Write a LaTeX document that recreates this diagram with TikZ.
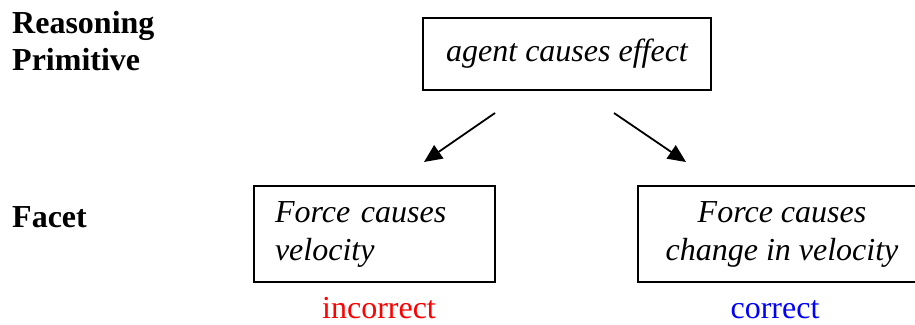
\documentclass[tikz,border=0pt]{standalone}
\usepackage{fontspec}
\setmainfont{Liberation Serif}
\usetikzlibrary{arrows.meta}
\begin{document}
\begin{tikzpicture}[x=1pt,y=-1pt,
  every node/.style={font=\fontsize{32}{37}\selectfont},
  label/.style={font=\fontsize{32}{37}\selectfont\bfseries, anchor=base west, inner sep=0pt},
  box/.style={draw, line width=1.6pt, inner sep=0pt, outer sep=0pt,
    font=\fontsize{32}{37}\selectfont\itshape},
  verdict/.style={anchor=base, inner sep=0pt},
  link/.style={line width=1.8pt, -{Triangle[length=18pt,width=16pt]}}]
\useasboundingbox (0,0) rectangle (915,324);

% row labels
\node[label] (rp1) at (12,33) {Reasoning};
\node[label] (rp2) at (12,70) {Primitive};
\node[label] (fac) at (12,227) {Facet};

% reasoning primitive
\node[box, minimum width=288pt, minimum height=72pt] (prim) at (567,54) {agent causes effect};

% facets
\node[box, minimum width=241pt, minimum height=96pt, text width=199pt,
  inner xsep=21pt, align=left] (fvel) at (374.5,234) {Force causes\\[1pt]velocity};
\node[box, minimum width=288pt, minimum height=96pt, align=center] (facc) at (782,234)
  {Force causes\\[1pt]change in velocity};

% verdicts
\node[verdict, text=red] (inc) at (379,318) {incorrect};
\node[verdict, text=blue] (cor) at (775,318) {correct};

% arrows
\coordinate (la) at (495,113);
\coordinate (lb) at (424,162);
\coordinate (ra) at (614,113);
\coordinate (rb) at (686,162);
\draw[link] (la) -- (lb);
\draw[link] (ra) -- (rb);
\end{tikzpicture}
\end{document}
